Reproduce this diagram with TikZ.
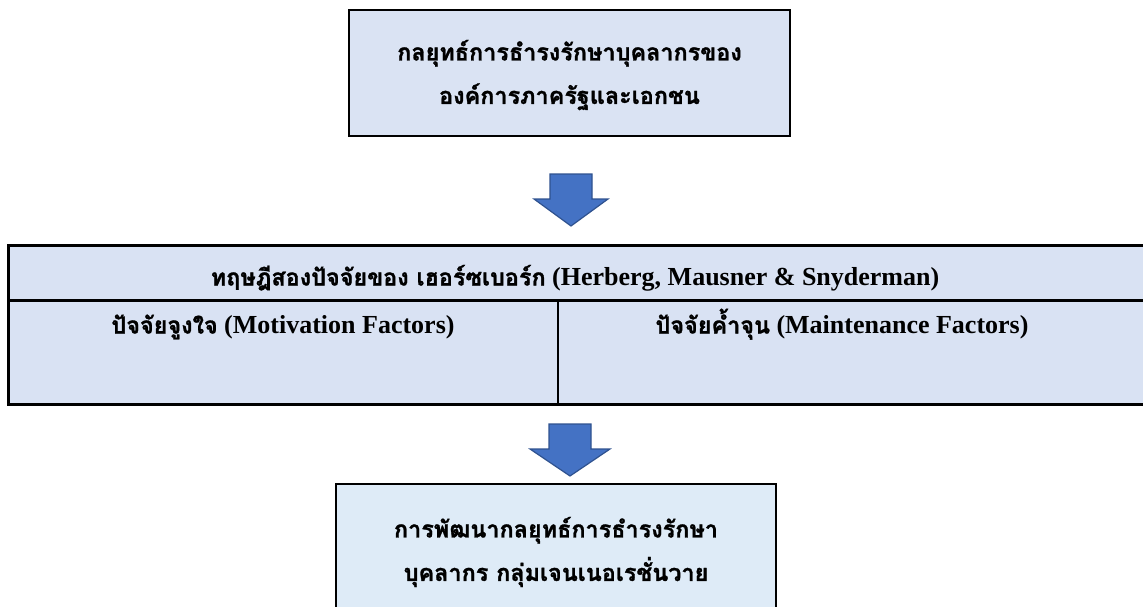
\documentclass[tikz,border=0pt]{standalone}
\usepackage{fontspec}
\setmainfont{Liberation Serif}
\newfontfamily\thaifont[Script=Thai, FakeBold=1.2, BoldFeatures={FakeBold=1.2}]{Loma}
\newcommand\thx[1]{{\thaifont\fontsize{23.4}{30}\selectfont #1}}
\definecolor{topfill}{HTML}{DAE3F3}
\definecolor{tabfill}{HTML}{D9E2F3}
\definecolor{botfill}{HTML}{DEEBF7}
\definecolor{arrowfill}{HTML}{4472C4}
\definecolor{arrowline}{HTML}{2F528F}
\begin{document}
\begin{tikzpicture}[x=1pt,y=-1pt,
  txt/.style={font=\bfseries\fontsize{26}{30}\selectfont, inner sep=0pt, anchor=base},
  thtxt/.style={font=\thaifont\bfseries\fontsize{23.4}{43.5}\selectfont, inner sep=0pt, align=center},
  boxline/.style={draw=black, line width=2pt},
  tabline/.style={draw=black, line width=3pt},
  blockarrow/.style={fill=arrowfill, draw=arrowline, line width=1.2pt, line join=miter}
]
\useasboundingbox (0,0) rectangle (1143,606);

% top box
\node[boxline, fill=topfill, minimum width=441pt, minimum height=126pt, inner sep=0pt] (top) at (569.5,73) {};
\node[thtxt] (toptext) at ([yshift=-2pt]top.center) {กลยุทธ์การธำรงรักษาบุคลากรของ\\องค์การภาครัฐและเอกชน};

% arrow 1
\coordinate (a1) at (571,174);
\draw[blockarrow] ([xshift=-21pt]a1) -- ([xshift=21pt]a1) -- ([xshift=21pt,yshift=-25pt]a1)
  -- ([xshift=37pt,yshift=-25pt]a1) -- ([yshift=-52pt]a1) -- ([xshift=-37pt,yshift=-25pt]a1)
  -- ([xshift=-21pt,yshift=-25pt]a1) -- cycle;

% table
\path[fill=tabfill] (8,245) rectangle (1150,404);
\draw[tabline] (1150,245) -- (8,245) -- (8,404) -- (1150,404);
\coordinate (rowl) at (8,300);
\coordinate (rowr) at (1150,300);
\draw[tabline] (rowl) -- (rowr);
\coordinate (colt) at (558,300);
\coordinate (colb) at (558,404);
\draw[line width=2pt] (colt) -- (colb);

\node[txt] (hdr) at (575,285.5) {\thx{ทฤษฎีสองปัจจัยของ เฮอร์ซเบอร์ก} (Herberg, Mausner \& Snyderman)};
\node[txt] (mot) at (283,333.5) {\thx{ปัจจัยจูงใจ} (Motivation Factors)};
\node[txt] (mai) at (842,333.5) {\thx{ปัจจัยค้ำจุน} (Maintenance Factors)};

% arrow 2
\coordinate (a2) at (570,424);
\draw[blockarrow] ([xshift=-21pt]a2) -- ([xshift=21pt]a2) -- ([xshift=21pt,yshift=-25pt]a2)
  -- ([xshift=40pt,yshift=-25pt]a2) -- ([yshift=-52pt]a2) -- ([xshift=-40pt,yshift=-25pt]a2)
  -- ([xshift=-21pt,yshift=-25pt]a2) -- cycle;

% bottom box
\path[fill=botfill] (336,484) rectangle (776,612);
\draw[boxline] (336,612) -- (336,484) -- (776,484) -- (776,612);
\node[thtxt] (bottext) at (556,552) {การพัฒนากลยุทธ์การธำรงรักษา\\บุคลากร กลุ่มเจนเนอเรชั่นวาย};
\end{tikzpicture}
\end{document}
